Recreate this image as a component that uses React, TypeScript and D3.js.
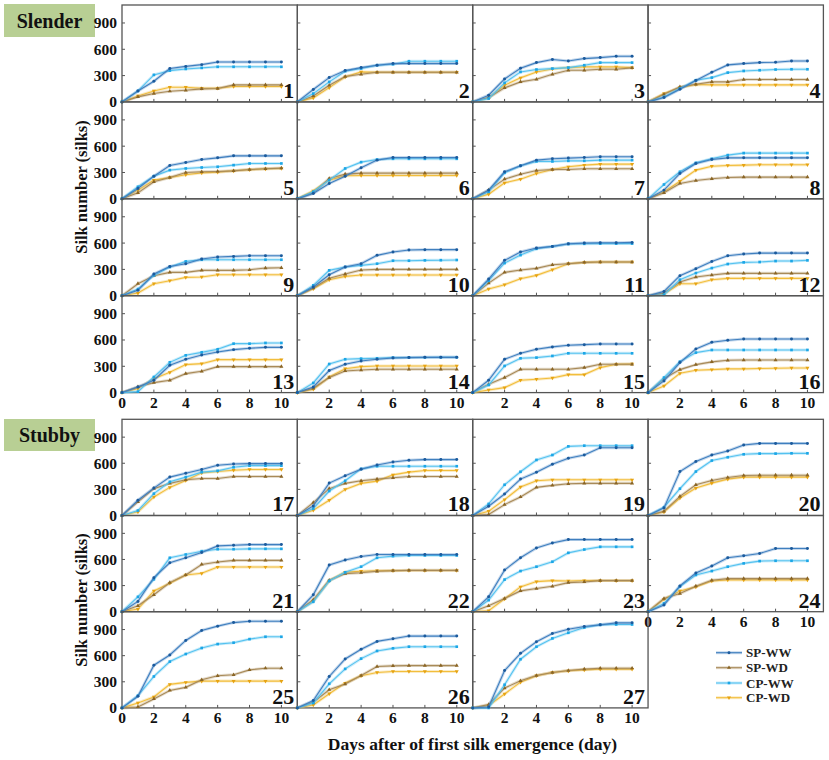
import React from "react";
import * as d3 from "d3";

const DAYS = [0, 1, 2, 3, 4, 5, 6, 7, 8, 9, 10];
const Y_TICKS = [0, 300, 600, 900];
const X_TICKS = [0, 2, 4, 6, 8, 10];
const SERIES_NAMES = ["SP-WW", "SP-WD", "CP-WW", "CP-WD"];

const SP_WW: number[][] = [
  [0,125,235,380,405,425,455,455,455,455,455],
  [0,141,277,357,391,418,437,437,437,437,437],
  [0,76,262,384,448,483,467,494,505,520,520],
  [0,50,144,243,338,422,437,448,452,467,467],
  [0,118,258,380,414,448,467,490,490,490,490],
  [0,61,175,258,353,441,471,471,471,471,471],
  [0,99,308,376,441,456,464,471,479,479,479],
  [0,99,289,403,448,467,467,467,467,467,467],
  [0,61,247,334,365,418,441,448,456,456,456],
  [0,99,239,327,365,460,498,521,525,525,525],
  [0,190,403,498,543,562,593,600,604,604,608],
  [0,49,228,308,391,456,475,486,486,486,486],
  [0,65,141,311,380,429,463,490,505,516,516],
  [0,65,251,323,361,380,395,399,402,402,402],
  [0,141,380,448,494,521,540,547,555,555,555],
  [0,133,342,498,574,597,612,612,612,612,612],
  [0,175,315,441,486,528,577,592,596,596,596],
  [0,110,372,456,532,581,615,634,642,642,642],
  [0,106,247,418,498,589,657,695,779,779,779],
  [0,87,505,619,695,741,809,828,828,828,828],
  [0,118,391,562,619,680,756,764,771,771,771],
  [0,194,536,593,635,657,657,657,657,657,657],
  [0,171,479,619,733,790,828,828,828,828,828],
  [0,76,296,444,524,619,642,669,726,726,726],
  [0,133,490,608,775,889,939,980,996,996,996],
  [0,84,361,562,673,764,794,825,825,825,825],
  [0,11,429,627,760,855,904,935,954,977,977],
];

const CP_WW: number[][] = [
  [0,125,308,357,376,388,400,400,400,400,400],
  [0,95,228,350,380,418,429,464,464,464,464],
  [0,38,217,342,369,380,391,418,448,448,448],
  [0,57,152,247,277,334,353,361,369,372,372],
  [0,137,258,327,346,357,365,384,403,403,403],
  [0,80,213,346,418,448,456,456,456,456,456],
  [0,80,296,376,426,426,433,433,441,441,441],
  [0,163,308,410,456,498,521,521,521,521,521],
  [0,76,232,327,391,410,410,410,410,410,410],
  [0,118,289,327,346,365,399,399,403,405,407],
  [0,171,372,463,535,562,589,592,594,594,594],
  [0,11,182,258,315,361,380,384,395,395,403],
  [0,11,178,345,425,459,494,558,558,566,566],
  [0,110,326,380,387,391,399,400,401,402,402],
  [0,87,304,391,399,418,448,448,448,448,448],
  [0,171,353,456,486,486,486,486,486,486,486],
  [0,57,251,387,441,498,513,554,573,573,573],
  [0,80,281,399,536,566,566,566,566,566,566],
  [0,133,353,502,638,695,794,802,802,802,802],
  [0,95,308,505,631,669,703,711,711,714,714],
  [0,171,372,619,657,695,718,718,722,722,722],
  [0,114,353,452,517,619,638,646,646,646,646],
  [0,133,369,467,517,574,676,714,745,745,745],
  [0,95,289,422,467,517,555,581,585,585,585],
  [0,141,361,532,619,688,733,749,790,817,817],
  [0,57,277,448,566,654,684,703,703,703,703],
  [0,0,266,559,703,798,863,923,954,958,958],
];

const SP_WD: number[][] = [
  [0,57,95,122,133,148,152,194,194,194,194],
  [0,68,190,289,315,338,338,338,338,338,338],
  [0,50,160,228,258,315,361,361,372,372,388],
  [0,87,171,201,228,228,255,255,255,255,255],
  [0,68,194,243,300,308,312,319,334,342,350],
  [0,68,232,281,293,293,293,293,293,293,293],
  [0,99,224,281,323,334,334,342,342,342,342],
  [0,68,175,209,228,243,247,247,247,247,247],
  [0,137,228,266,266,289,289,289,296,315,319],
  [0,87,198,247,293,300,300,300,300,300,300],
  [0,144,266,293,312,353,365,380,384,384,384],
  [0,30,156,213,236,255,255,255,255,255,255],
  [0,65,114,141,216,243,296,296,296,296,296],
  [0,49,171,247,258,266,266,266,266,266,266],
  [0,95,171,266,266,266,266,285,323,323,323],
  [0,160,262,319,350,369,372,372,372,372,372],
  [0,156,308,369,410,425,425,448,448,448,448],
  [0,148,308,369,399,418,433,448,448,448,448],
  [0,11,125,213,323,346,365,369,369,369,369],
  [0,49,220,353,403,437,460,463,463,463,463],
  [0,68,194,334,422,543,570,589,589,589,589],
  [0,137,361,437,448,464,471,475,475,475,475],
  [0,68,152,239,266,292,334,342,357,357,357],
  [0,152,209,293,361,380,380,380,380,380,380],
  [0,11,103,201,236,323,369,380,437,456,456],
  [0,65,209,274,372,475,483,486,486,486,486],
  [0,38,228,312,372,407,429,445,456,456,456],
];

const CP_WD: number[][] = [
  [0,68,125,167,167,156,156,175,175,175,175],
  [0,46,163,285,342,338,338,338,338,338,338],
  [0,46,190,274,342,376,391,399,399,399,391],
  [0,95,163,198,194,194,194,194,194,194,194],
  [0,99,213,243,274,296,304,319,331,342,346],
  [0,91,213,262,266,266,266,266,266,266,266],
  [0,53,182,224,289,334,365,384,395,395,395],
  [0,80,201,327,372,380,384,388,388,388,388],
  [0,30,137,171,209,213,239,239,239,239,239],
  [0,80,182,220,236,236,236,236,236,236,236],
  [0,76,125,194,232,296,365,380,384,384,384],
  [0,19,137,137,182,198,198,198,198,198,198],
  [0,46,159,231,319,330,376,376,376,376,376],
  [0,38,178,273,296,303,303,303,303,303,303],
  [0,30,57,141,152,167,205,205,285,323,327],
  [0,76,220,255,262,270,270,274,277,281,281],
  [0,42,213,323,403,490,505,520,528,528,528],
  [0,61,175,300,369,395,467,498,517,517,517],
  [0,49,182,327,399,410,410,410,410,410,410],
  [0,42,201,315,372,418,441,441,441,441,441],
  [0,30,239,327,422,441,513,513,513,513,513],
  [0,125,355,455,465,470,472,474,474,474,474],
  [0,11,148,285,346,357,353,357,357,357,357],
  [0,144,239,285,353,365,365,365,365,365,365],
  [0,57,125,270,293,308,308,308,308,308,308],
  [0,34,163,285,369,407,418,418,418,418,418],
  [0,27,160,296,369,407,426,437,445,445,445],
];

const SERIES_DATA = [SP_WW, SP_WD, CP_WW, CP_WD];
const LINE_COLORS = ["#3f7fbf", "#a88a58", "#55c2f0", "#f2be3c"];
const MARK_COLORS = ["#1b5a9c", "#8a6525", "#1ca6e6", "#e6a312"];
const SYMBOLS = [d3.symbolCircle, d3.symbolTriangle, d3.symbolSquare, d3.symbolTriangle];
const DRAW_ORDER = [3, 1, 2, 0];

const FONT = "'Liberation Serif', 'Times New Roman', serif";
const GRID_LEFT = 122;
const GRID_RIGHT = 823.4;
const COL_W = (GRID_RIGHT - GRID_LEFT) / 4;
const BLOCKS = [
  { top: 5, rowH: 96.9 },
  { top: 419.3, rowH: 96.2 },
];

function panelPos(i: number) {
  const b = i < 16 ? 0 : 1;
  const j = i < 16 ? i : i - 16;
  const row = Math.floor(j / 4);
  const col = j % 4;
  const blk = BLOCKS[b];
  return { x: GRID_LEFT + col * COL_W, y: blk.top + row * blk.rowH, h: blk.rowH, row, col, b };
}

function Panel({ i }: { i: number }) {
  const p = panelPos(i);
  const x = d3.scaleLinear().domain([0, 11]).range([0, COL_W]);
  const y = d3.scaleLinear().domain([0, 1105]).range([p.h, 0]);
  const line = d3
    .line<number>()
    .x((_, k) => x(DAYS[k]))
    .y((v) => y(v));
  const isBottom = (p.b === 0 && p.row === 3) || (p.b === 1 && p.row === 2) || i === 23;
  const showZero = p.col === 0 || i === 23;
  return (
    <g transform={`translate(${p.x},${p.y})`}>
      <rect x={0} y={0} width={COL_W} height={p.h} fill="none" stroke="#555" strokeWidth={1.3} />
      {Y_TICKS.filter((t) => t > 0).map((t) => (
        <line key={"yt" + t} x1={0} x2={3} y1={y(t)} y2={y(t)} stroke="#555" strokeWidth={1} />
      ))}
      {X_TICKS.filter((t) => t > 0).map((t) => (
        <line key={"xt" + t} x1={x(t)} x2={x(t)} y1={p.h} y2={p.h - 3} stroke="#555" strokeWidth={1} />
      ))}
      {p.col === 0 &&
        Y_TICKS.map((t) => (
          <text key={"yl" + t} x={-5} y={y(t)} dy="0.35em" textAnchor="end" fontFamily={FONT} fontWeight="bold" fontSize={15.5} fill="#111">
            {t}
          </text>
        ))}
      {isBottom &&
        X_TICKS.filter((t) => t > 0 || showZero).map((t) => (
          <text key={"xl" + t} x={x(t)} y={p.h + 15} textAnchor="middle" fontFamily={FONT} fontWeight="bold" fontSize={15.5} fill="#111">
            {t}
          </text>
        ))}
      {DRAW_ORDER.map((s) => {
        const vals = SERIES_DATA[s][i];
        const d = line(vals) || "";
        const sym = d3.symbol().type(SYMBOLS[s]).size(7)() || "";
        return (
          <g key={"s" + s}>
            <path d={d} fill="none" stroke={LINE_COLORS[s]} strokeWidth={3} strokeOpacity={0.3} />
            <path d={d} fill="none" stroke={LINE_COLORS[s]} strokeWidth={1.1} />
            {vals.map((v, k) => (
              <path
                key={k}
                d={sym}
                transform={`translate(${x(DAYS[k])},${y(v)})${s === 3 ? " rotate(180)" : ""}`}
                fill={MARK_COLORS[s]}
              />
            ))}
          </g>
        );
      })}
      <text x={COL_W - 3} y={p.h - 4} textAnchor="end" fontFamily={FONT} fontWeight="bold" fontSize={22} fill="#111">
        {i + 1}
      </text>
    </g>
  );
}

function Legend() {
  const x0 = 716;
  const ys = [652.7, 667.7, 683, 697.7];
  return (
    <g>
      {SERIES_NAMES.map((n, s) => {
        const sym = d3.symbol().type(SYMBOLS[s]).size(7)() || "";
        return (
          <g key={n}>
            <line x1={x0} x2={x0 + 26} y1={ys[s]} y2={ys[s]} stroke={LINE_COLORS[s]} strokeWidth={3} strokeOpacity={0.3} />
            <line x1={x0} x2={x0 + 26} y1={ys[s]} y2={ys[s]} stroke={LINE_COLORS[s]} strokeWidth={1.1} />
            <path d={sym} transform={`translate(${x0 + 13},${ys[s]})${s === 3 ? " rotate(180)" : ""}`} fill={MARK_COLORS[s]} />
            <text x={x0 + 30} y={ys[s]} dy="0.35em" fontFamily={FONT} fontWeight="bold" fontSize={13} fill="#222">
              {n}
            </text>
          </g>
        );
      })}
    </g>
  );
}

export default function App() {
  const panels = d3.range(27);
  return (
    <svg width={829} height={760} style={{ position: "absolute", left: 0, top: 0, background: "#fff" }}>
      <rect x={0} y={0} width={829} height={760} fill="#fff" />
      <rect x={4} y={4} width={91} height={33} fill="#b8cf94" />
      <text x={49.5} y={21} dy="0.35em" textAnchor="middle" fontFamily={FONT} fontWeight="bold" fontSize={20} fill="#111">
        Slender
      </text>
      <rect x={4} y={419} width={91} height={32} fill="#b8cf94" />
      <text x={49.5} y={435} dy="0.35em" textAnchor="middle" fontFamily={FONT} fontWeight="bold" fontSize={20} fill="#111">
        Stubby
      </text>
      <text transform="translate(81,187) rotate(-90)" dy="0.35em" textAnchor="middle" fontFamily={FONT} fontWeight="bold" fontSize={16.5} fill="#111">
        Silk number (silks)
      </text>
      <text transform="translate(81,600) rotate(-90)" dy="0.35em" textAnchor="middle" fontFamily={FONT} fontWeight="bold" fontSize={16.5} fill="#111">
        Silk number (silks)
      </text>
      {panels.map((i) => (
        <Panel key={i} i={i} />
      ))}
      <text x={472.5} y={744} dy="0.35em" textAnchor="middle" fontFamily={FONT} fontWeight="bold" fontSize={17.5} fill="#111">
        Days after of first silk emergence (day)
      </text>
      <Legend />
    </svg>
  );
}
